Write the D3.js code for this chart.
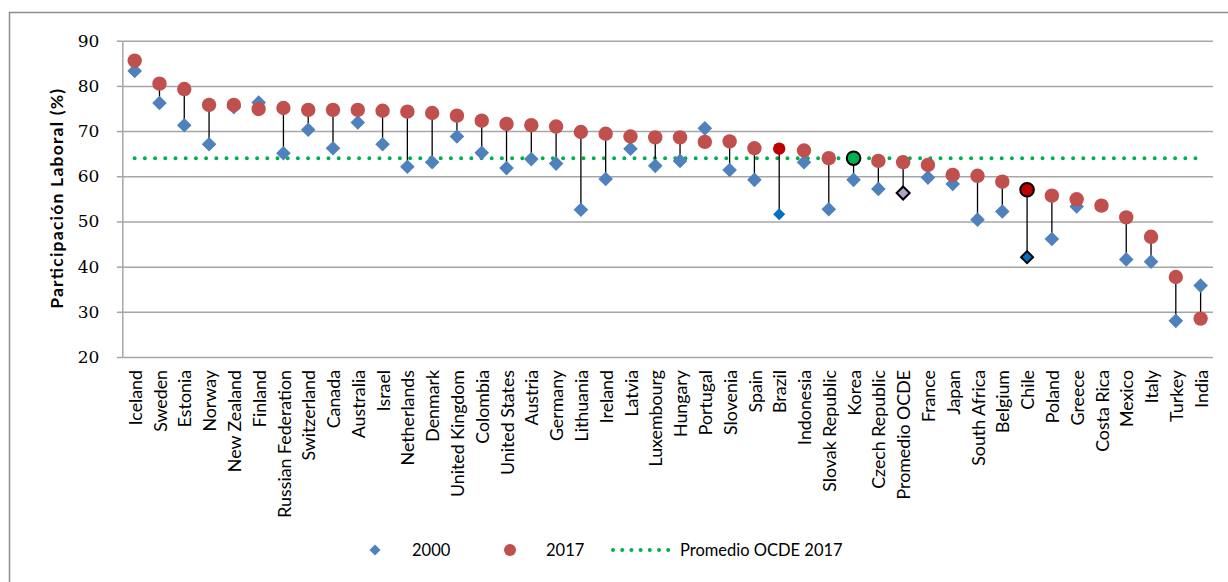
<!DOCTYPE html>
<html>
<head>
<meta charset="utf-8">
<script src="https://cdn.jsdelivr.net/npm/d3@7"></script>
<style>
  html, body { margin: 0; padding: 0; background: #fff; }
  svg { display: block; }
</style>
</head>
<body>
<svg id="chart" width="1228" height="582"></svg>
<script>
// Labour force participation, 2000 vs 2017, by country
const categories = ["Iceland","Sweden","Estonia","Norway","New Zealand","Finland","Russian Federation","Switzerland","Canada","Australia","Israel","Netherlands","Denmark","United Kingdom","Colombia","United States","Austria","Germany","Lithuania","Ireland","Latvia","Luxembourg","Hungary","Portugal","Slovenia","Spain","Brazil","Indonesia","Slovak Republic","Korea","Czech Republic","Promedio OCDE","France","Japan","South Africa","Belgium","Chile","Poland","Greece","Costa Rica","Mexico","Italy","Turkey","India"];

const values2000 = [83.3,76.2,71.3,67.1,75.3,76.3,65.1,70.3,66.2,71.9,67.1,62.1,63.1,68.8,65.2,61.8,63.8,62.8,52.6,59.4,66.1,62.3,63.4,70.6,61.4,59.2,51.6,63.1,52.7,59.2,57.2,56.3,59.7,58.3,50.4,52.2,42.1,46.1,53.3,null,41.6,41.1,28.0,35.8];

const values2017 = [85.6,80.5,79.3,75.8,75.8,74.9,75.1,74.7,74.7,74.7,74.5,74.3,74.0,73.4,72.3,71.6,71.3,71.0,69.8,69.4,68.8,68.6,68.6,67.6,67.7,66.2,66.1,65.7,64.0,64.0,63.4,63.1,62.5,60.3,60.1,58.8,57.0,55.7,54.9,53.5,50.9,46.6,37.7,28.5];

const oecdAverage2017 = 64.0;

const yTicks = [20,30,40,50,60,70,80,90];

const seriesNames = ["2000", "2017", "Promedio OCDE 2017"];

// Marker styling
const blue = "#4F81BD", red = "#C0504D", green = "#00B050";
const special = {
  "Brazil":        { d: { fill: "#0070C0", size: 6 },  c: { fill: "#C00000", r: 6.2 } },
  "Korea":         { c: { fill: green, stroke: "#000", sw: 2, r: 6.8 } },
  "Chile":         { d: { fill: "#0070C0", stroke: "#000", sw: 2, size: 6 }, c: { fill: "#C00000", stroke: "#000", sw: 2, r: 6.8 } },
  "Promedio OCDE": { d: { fill: "#B3A2C7", stroke: "#000", sw: 2, size: 6.5 } }
};

const svg = d3.select("#chart");

// Outer frame
svg.append("path")
  .attr("d", "M9.5,600 L9.5,12.5 L1240,12.5")
  .attr("fill", "none").attr("stroke", "#8c8c8c").attr("stroke-width", 1.5);

const plotLeft = 122.3, plotRight = 1213, plotTop = 40.7, plotBottom = 357;

const x = d3.scaleBand().domain(categories).range([plotLeft, plotRight]).padding(0);
const cx = c => x(c) + x.bandwidth() / 2;
const y = d3.scaleLinear().domain([20, 90]).range([plotBottom, plotTop]);

// Gridlines
svg.append("g")
  .attr("transform", `translate(${plotLeft},0)`)
  .call(d3.axisLeft(y).tickValues(yTicks).tickSize(-(plotRight - plotLeft)).tickFormat(""))
  .call(g => g.select(".domain").remove())
  .call(g => g.selectAll(".tick line").attr("stroke", "#a6a6a6").attr("stroke-width", 1.5));

// Y axis with tick labels
svg.append("g")
  .attr("transform", `translate(${plotLeft},0)`)
  .call(d3.axisLeft(y).tickValues(yTicks).tickSize(5.5).tickSizeOuter(0).tickPadding(17.5))
  .call(g => g.select(".domain").attr("stroke", "#a6a6a6").attr("stroke-width", 1.5))
  .call(g => g.selectAll(".tick line").attr("stroke", "#a6a6a6").attr("stroke-width", 1.5))
  .call(g => g.selectAll(".tick text")
    .attr("font-family", "DejaVu Serif").attr("font-size", 17).attr("fill", "#000"));

// Y axis title
svg.append("text")
  .attr("transform", `translate(63,${(plotTop + plotBottom) / 2}) rotate(-90)`)
  .attr("text-anchor", "middle")
  .attr("font-family", "Lato").attr("font-weight", "bold").attr("font-size", 17.5)
  .attr("textLength", 220).attr("lengthAdjust", "spacing")
  .attr("fill", "#000")
  .text("Participación Laboral (%)");

// Category labels
svg.append("g").selectAll("text")
  .data(categories).join("text")
  .attr("transform", c => `translate(${cx(c)},370) rotate(-90)`)
  .attr("dy", "0.4em")
  .attr("text-anchor", "end")
  .attr("font-family", "Lato").attr("font-size", 17.8).attr("fill", "#000")
  .text(c => c);

// OECD average line (dotted)
svg.append("line")
  .attr("x1", cx(categories[0])).attr("x2", cx(categories[categories.length - 1]))
  .attr("y1", y(oecdAverage2017)).attr("y2", y(oecdAverage2017))
  .attr("stroke", green).attr("stroke-width", 4)
  .attr("stroke-linecap", "round").attr("stroke-dasharray", "0 10.2");

const rows = categories.map((c, i) => ({ c, v0: values2000[i], v1: values2017[i] }));

// Stems between 2000 and 2017
svg.append("g").selectAll("line")
  .data(rows.filter(d => d.v0 != null && d.v1 != null)).join("line")
  .attr("x1", d => cx(d.c)).attr("x2", d => cx(d.c))
  .attr("y1", d => y(d.v0)).attr("y2", d => y(d.v1))
  .attr("stroke", "#000").attr("stroke-width", 1.3);

const diamond = s => `M0,${-s}L${s},0L0,${s}L${-s},0Z`;
const sd = c => (special[c] && special[c].d) || {};
const sc = c => (special[c] && special[c].c) || {};

// 2000 markers
svg.append("g").selectAll("path")
  .data(rows.filter(d => d.v0 != null)).join("path")
  .attr("transform", d => `translate(${cx(d.c)},${y(d.v0)})`)
  .attr("d", d => diamond(sd(d.c).size || 7.3))
  .attr("fill", d => sd(d.c).fill || blue)
  .attr("stroke", d => sd(d.c).stroke || "none")
  .attr("stroke-width", d => sd(d.c).sw || 0);

// 2017 markers
svg.append("g").selectAll("circle")
  .data(rows.filter(d => d.v1 != null)).join("circle")
  .attr("cx", d => cx(d.c)).attr("cy", d => y(d.v1))
  .attr("r", d => sc(d.c).r || 7.2)
  .attr("fill", d => sc(d.c).fill || red)
  .attr("stroke", d => sc(d.c).stroke || "none")
  .attr("stroke-width", d => sc(d.c).sw || 0);

// Legend
const ly = 550;
const legend = svg.append("g").attr("font-family", "Lato").attr("font-size", 16.5).attr("fill", "#000");
legend.append("path").attr("transform", `translate(375,${ly})`).attr("d", diamond(5.5)).attr("fill", blue);
legend.append("text").attr("x", 412).attr("y", ly).attr("dy", "0.35em").text(seriesNames[0]);
legend.append("circle").attr("cx", 510).attr("cy", ly).attr("r", 6).attr("fill", red);
legend.append("text").attr("x", 546).attr("y", ly).attr("dy", "0.35em").text(seriesNames[1]);
legend.append("line").attr("x1", 613).attr("x2", 669).attr("y1", ly).attr("y2", ly)
  .attr("stroke", green).attr("stroke-width", 4).attr("stroke-linecap", "round").attr("stroke-dasharray", "0 9.2");
legend.append("text").attr("x", 680).attr("y", ly).attr("dy", "0.35em").text(seriesNames[2]);
</script>
</body>
</html>
